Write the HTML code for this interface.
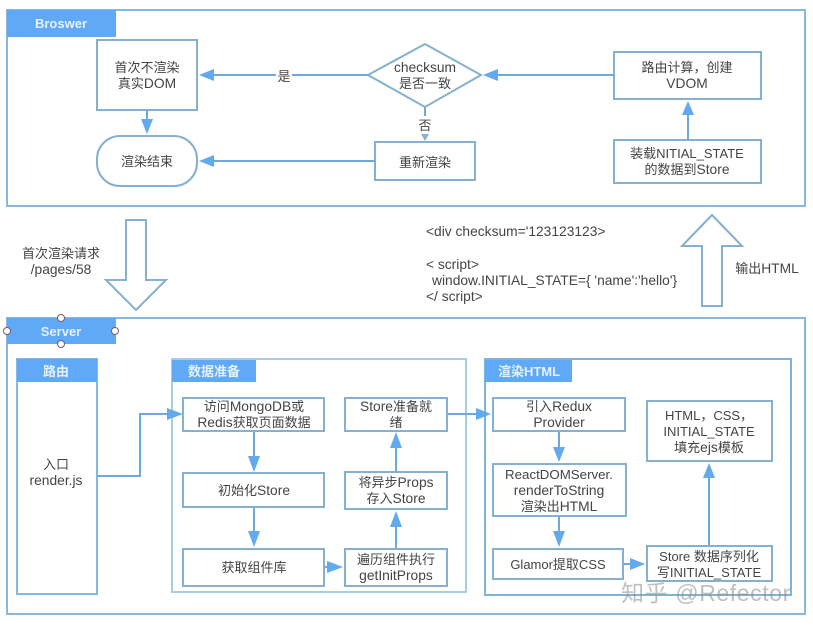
<!DOCTYPE html>
<html><head><meta charset="utf-8">
<style>
html,body{margin:0;padding:0;background:#fff;width:813px;height:625px;overflow:hidden}
svg{display:block}
text{font-family:"Liberation Sans","Noto Sans CJK SC",sans-serif;font-size:13.8px;fill:#444;text-anchor:middle}
.c{font-size:13px}
.b{fill:#fff;stroke:#85b0cf;stroke-width:2}
.o{fill:none;stroke:#86b9e0;stroke-width:2}
.l{fill:none;stroke:#6fa9dc;stroke-width:2}
.h{fill:#5fa9f6}
.a{fill:#62a9ee}
text.t{fill:#e6f2fb;font-weight:bold;font-size:13px}
</style></head><body>
<svg width="813" height="625" viewBox="0 0 813 625" xmlns="http://www.w3.org/2000/svg">
<rect class="o" x="7" y="10" width="798" height="196"/>
<rect class="h" x="7" y="10" width="109" height="27"/>
<text class="t" x="61" y="28">Broswer</text>

<rect class="b" x="97" y="40" width="100" height="70"/>
<text x="147" y="72" class="c">首次不渲染</text><text x="147" y="88"><tspan class="c">真实</tspan>DOM</text>
<rect class="b" x="97" y="136" width="100" height="50" rx="23"/>
<text x="147" y="166" class="c">渲染结束</text>
<polygon class="b" points="368,75 425,44 481,75 425,107"/>
<text x="425" y="72">checksum</text><text x="425" y="88" class="c">是否一致</text>
<rect class="b" x="375" y="142" width="100" height="38"/>
<text x="425" y="167" class="c">重新渲染</text>
<rect class="b" x="614" y="52" width="147" height="47"/>
<text x="687" y="72" class="c">路由计算，创建</text><text x="687" y="88">VDOM</text>
<rect class="b" x="614" y="140" width="147" height="43"/>
<text x="687" y="158" class="c">装载NITIAL_STATE</text><text x="687" y="174"><tspan class="c">的数据到</tspan>Store</text>

<path class="l" d="M368 75H210M147 110V124M375 161H210M425 107V136M614 75H495M688 140V112"/>
<polygon class="a" points="199,75 214,69 214,81"/>
<polygon class="a" points="147,134 141,119 153,119"/>
<polygon class="a" points="199,161 214,155 214,167"/>
<polygon points="425,141 421,134 429,134" fill="#85b0cf"/>
<polygon class="a" points="483,75 498,69 498,81"/>
<polygon class="a" points="688,101 682,115 694,115"/>
<rect x="276" y="66" width="16" height="18" fill="#fff"/>
<text x="284" y="81" class="c">是</text>
<rect x="417" y="116" width="16" height="18" fill="#fff"/>
<text x="425" y="130" class="c">否</text>

<polygon fill="#fff" stroke="#85b0cf" stroke-width="2" points="126,220 146,220 146,280 166,280 136,310 106,280 126,280"/>
<text x="61" y="258" class="c">首次渲染请求</text><text x="61" y="274">/pages/58</text>
<polygon fill="#fff" stroke="#85b0cf" stroke-width="2" points="712,215 742,246 722,246 722,306 702,306 702,246 682,246"/>
<text x="767" y="273"><tspan class="c">输出</tspan>HTML</text>

<text x="426" y="236" style="text-anchor:start">&lt;div checksum='123123123&gt;</text>
<text x="426" y="269" style="text-anchor:start">&lt; script&gt;</text>
<text x="432" y="285" style="text-anchor:start">window.INITIAL_STATE={ 'name':'hello'}</text>
<text x="426" y="301" style="text-anchor:start">&lt;/ script&gt;</text>

<rect class="o" x="7" y="318" width="798" height="296"/>
<rect class="h" x="7" y="318" width="109" height="26"/>
<text class="t" x="61" y="336">Server</text>
<g fill="#fff" stroke="#7a5a6a" stroke-width="1">
<circle cx="61" cy="318" r="3.5"/><circle cx="7" cy="331" r="3.5"/><circle cx="115" cy="331" r="3.5"/><circle cx="61" cy="344" r="3.5"/>
</g>

<rect class="o" x="17" y="359" width="80" height="235"/>
<rect class="h" x="17" y="359" width="80" height="23"/>
<text class="t" x="56" y="376">路由</text>
<text x="56" y="469" class="c">入口</text><text x="56" y="485">render.js</text>

<rect class="o" x="172" y="359" width="294" height="233" style="stroke:#a5cde6"/>
<rect class="h" x="172" y="360" width="84" height="22"/>
<text class="t" x="214" y="376">数据准备</text>

<rect class="o" x="485" y="359" width="306" height="236" style="stroke:#7fb3d8"/>
<rect class="h" x="485" y="360" width="87" height="22"/>
<text class="t" x="529" y="376">渲染HTML</text>

<path class="l" d="M97 476H140V414H170M447 414H480M254 431V460M254 507V536M324 567H330M396 549V520M396 472V445M559 431V453M559 516V536M623 564H632M709 546V476"/>
<polygon class="a" points="183,414 167,408 167,420"/>
<polygon class="a" points="491,414 476,408 476,420"/>

<rect class="b" x="183" y="398" width="141" height="33"/>
<text x="254" y="411"><tspan class="c">访问</tspan>MongoDB<tspan class="c">或</tspan></text><text x="254" y="427">Redis<tspan class="c">获取页面数据</tspan></text>
<rect class="b" x="345" y="398" width="102" height="33"/>
<text x="396" y="411">Store<tspan class="c">准备就</tspan></text><text x="396" y="427" class="c">绪</text>
<rect class="b" x="183" y="473" width="141" height="34"/>
<text x="254" y="495"><tspan class="c">初始化</tspan>Store</text>
<rect class="b" x="345" y="472" width="102" height="37"/>
<text x="396" y="487"><tspan class="c">将异步</tspan>Props</text><text x="396" y="503"><tspan class="c">存入</tspan>Store</text>
<rect class="b" x="183" y="549" width="141" height="37"/>
<text x="254" y="572" class="c">获取组件库</text>
<rect class="b" x="345" y="549" width="102" height="37"/>
<text x="396" y="564" class="c">遍历组件执行</text><text x="396" y="580">getInitProps</text>

<polygon class="a" points="254,472 248,456 260,456"/>
<polygon class="a" points="254,547 248,531 260,531"/>
<polygon class="a" points="343,567 327,561 327,573"/>
<polygon class="a" points="396,511 390,527 402,527"/>
<polygon class="a" points="396,432 390,448 402,448"/>

<rect class="b" x="493" y="398" width="132" height="33"/>
<text x="559" y="411"><tspan class="c">引入</tspan>Redux</text><text x="559" y="427">Provider</text>
<rect class="b" x="493" y="464" width="133" height="52"/>
<text x="559" y="479" style="font-size:13.3px">ReactDOMServer.</text><text x="559" y="495">renderToString</text><text x="559" y="511"><tspan class="c">渲染出</tspan>HTML</text>
<rect class="b" x="493" y="549" width="130" height="30"/>
<text x="558" y="569" class="c">Glamor提取CSS</text>
<rect class="b" x="647" y="546" width="125" height="35"/>
<text x="709" y="561" class="c">Store 数据序列化</text><text x="709" y="577" class="c">写INITIAL_STATE</text>
<rect class="b" x="647" y="401" width="125" height="60"/>
<text x="709" y="420" class="c">HTML，CSS，</text><text x="709" y="436" class="c">INITIAL_STATE</text><text x="709" y="452"><tspan class="c">填充</tspan>ejs<tspan class="c">模板</tspan></text>

<polygon class="a" points="559,462 553,447 565,447"/>
<polygon class="a" points="559,547 553,531 565,531"/>
<polygon class="a" points="645,564 630,558 630,570"/>
<polygon class="a" points="709,463 703,478 715,478"/>

<text x="706" y="601" style="font-size:23px;fill:#8a8a8a;fill-opacity:.55;letter-spacing:.6px">知乎 @Refector</text>
</svg>
</body></html>
